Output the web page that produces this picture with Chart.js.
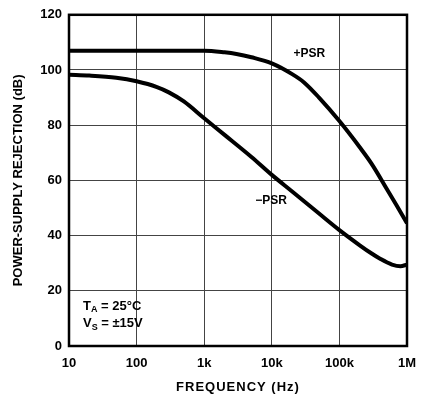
<!DOCTYPE html>
<html lang="en">
<head>
  <meta charset="UTF-8">
  <title>Power-Supply Rejection vs Frequency</title>
  <style>
    body {
      margin: 0;
      padding: 0;
      background: #fff;
    }
    #wrap {
      width: 430px;
      height: 402px;
    }
  </style>
</head>
<body>
  <div id="wrap">
    <canvas id="psrChart" width="430" height="402"></canvas>
  </div>

  <script src="https://cdn.jsdelivr.net/npm/chart.js"></script>
  <script>
    // values
    const posFreq = [10, 100, 1000, 2000, 3000, 5000, 10000, 20000, 30000, 50000, 100000, 200000, 300000, 500000, 700000, 1000000];
    const posPsr  = [107, 107, 107, 106.4, 105.8, 104.6, 102.4, 98.5, 95.5, 90, 81.5, 72, 66, 57, 51, 44.5];

    const negFreq = [10, 20, 50, 100, 200, 300, 500, 1000, 2000, 5000, 10000, 20000, 50000, 100000, 200000, 300000, 400000, 600000, 800000, 1000000];
    const negPsr  = [98.3, 98, 97.2, 95.9, 93.8, 91.9, 88.6, 82.5, 76.5, 68.5, 62, 56, 48, 42, 36.5, 33.5, 31.6, 29.5, 28.9, 29.5];

    const xTickVals = [10, 100, 1000, 10000, 100000, 1000000];
    const xTickLabels = ['10', '100', '1k', '10k', '100k', '1M'];
    const yTicks = [0, 20, 40, 60, 80, 100, 120];

    const FONT = "'Liberation Sans', Arial, sans-serif";
    Chart.defaults.font.family = FONT;
    Chart.defaults.font.weight = 'bold';
    Chart.defaults.color = '#000';

    function toPoints(xs, ys) {
      return xs.map((x, i) => ({ x: x, y: ys[i] }));
    }

    // frame, x title and the text notes inside the plot
    const annotations = {
      id: 'annotations',
      afterDraw(chart) {
        const ctx = chart.ctx;
        const a = chart.chartArea;
        const xs = chart.scales.x;
        const ys = chart.scales.y;
        ctx.save();

        ctx.strokeStyle = '#000';
        ctx.lineWidth = 2.5;
        ctx.strokeRect(a.left, a.top, a.right - a.left, a.bottom - a.top);

        ctx.fillStyle = '#000';
        ctx.textBaseline = 'middle';

        // x axis title, a bit spaced out like the original
        ctx.textAlign = 'center';
        ctx.font = 'bold 13px ' + FONT;
        ctx.letterSpacing = '1px';
        ctx.fillText('FREQUENCY (Hz)', (a.left + a.right) / 2, 387);
        ctx.letterSpacing = '0px';

        ctx.textAlign = 'left';
        ctx.font = 'bold 12px ' + FONT;
        ctx.fillText('+PSR', xs.getPixelForValue(21000), ys.getPixelForValue(106));
        ctx.fillText('\u2212PSR', xs.getPixelForValue(5700), ys.getPixelForValue(52.5));

        // T_A and V_S notes
        let x0 = a.left + 14;
        let y1 = ys.getPixelForValue(14.5);
        let y2 = ys.getPixelForValue(8);
        ctx.font = 'bold 13px ' + FONT;
        ctx.fillText('T', x0, y1);
        let w = ctx.measureText('T').width;
        ctx.font = 'bold 9px ' + FONT;
        ctx.fillText('A', x0 + w, y1 + 4);
        let w2 = ctx.measureText('A').width;
        ctx.font = 'bold 13px ' + FONT;
        ctx.fillText(' = 25\u00B0C', x0 + w + w2, y1);

        ctx.fillText('V', x0, y2);
        w = ctx.measureText('V').width;
        ctx.font = 'bold 9px ' + FONT;
        ctx.fillText('S', x0 + w, y2 + 4);
        w2 = ctx.measureText('S').width;
        ctx.font = 'bold 13px ' + FONT;
        ctx.fillText(' = \u00B115V', x0 + w + w2, y2);

        ctx.restore();
      }
    };

    new Chart(document.getElementById('psrChart'), {
      type: 'line',
      data: {
        datasets: [
          {
            label: '+PSR',
            data: toPoints(posFreq, posPsr),
            borderColor: '#000',
            borderWidth: 4,
            pointRadius: 0,
            cubicInterpolationMode: 'monotone',
            fill: false
          },
          {
            label: '-PSR',
            data: toPoints(negFreq, negPsr),
            borderColor: '#000',
            borderWidth: 4,
            pointRadius: 0,
            cubicInterpolationMode: 'monotone',
            fill: false
          }
        ]
      },
      options: {
        responsive: false,
        animation: false,
        layout: {
          padding: { top: 7, right: 23, bottom: 0, left: 0 }
        },
        plugins: {
          legend: { display: false },
          tooltip: { enabled: false }
        },
        scales: {
          x: {
            type: 'logarithmic',
            min: 10,
            max: 1000000,
            afterBuildTicks: (scale) => {
              scale.ticks = xTickVals.map(v => ({ value: v }));
            },
            afterFit: (scale) => { scale.height = 56; },
            ticks: {
              autoSkip: false,
              maxRotation: 0,
              padding: 10,
              font: { size: 13, weight: 'bold' },
              callback: (v) => {
                const i = xTickVals.indexOf(v);
                return i >= 0 ? xTickLabels[i] : '';
              }
            },
            grid: {
              color: '#444',
              lineWidth: 1,
              drawTicks: false
            },
            border: { display: false }
          },
          y: {
            min: 0,
            max: 120,
            afterBuildTicks: (scale) => {
              scale.ticks = yTicks.map(v => ({ value: v }));
            },
            afterFit: (scale) => { scale.width = 69; },
            ticks: {
              padding: 7,
              font: { size: 13, weight: 'bold' }
            },
            grid: {
              color: '#444',
              lineWidth: 1,
              drawTicks: false
            },
            border: { display: false },
            title: {
              display: true,
              text: 'POWER-SUPPLY REJECTION (dB)',
              font: { size: 13, weight: 'bold' },
              padding: { top: 11, bottom: 0 }
            }
          }
        }
      },
      plugins: [annotations]
    });
  </script>
</body>
</html>
